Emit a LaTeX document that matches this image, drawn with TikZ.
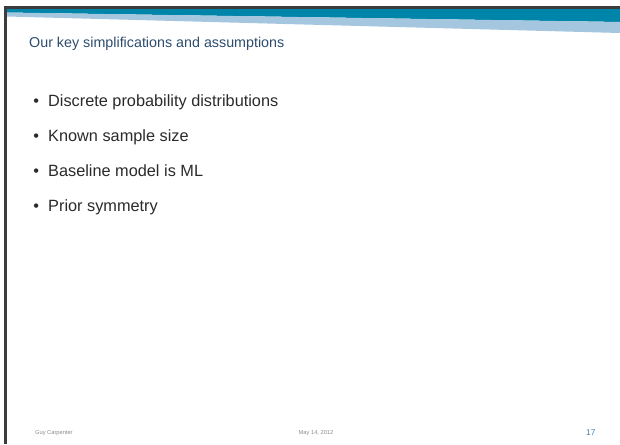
\documentclass[tikz,border=0pt]{standalone}
\usepackage{fontspec}
\setmainfont{Liberation Sans}
\usepackage{tikz}
\usepackage{xcolor}
\definecolor{bandteal}{HTML}{0085AA}
\definecolor{bandlight}{HTML}{A4C6DE}
\definecolor{frame}{HTML}{3C3C3C}
\definecolor{titleblue}{HTML}{2E4D6E}
\definecolor{bodytext}{HTML}{2B2B2B}
\definecolor{footgray}{HTML}{8C8C8C}
\definecolor{pageblue}{HTML}{4F7EA8}
\tikzstyle{slidetitle} = [anchor=base west, inner sep=0, text=titleblue,
    font=\fontsize{14.3}{17}\selectfont]
\tikzstyle{bodylist} = [anchor=base west, inner sep=0, text=bodytext,
    font=\fontsize{16.3}{20}\selectfont]
\tikzstyle{footer} = [inner sep=0, text=footgray, font=\fontsize{5.7}{7}\selectfont]

\begin{document}
\begin{tikzpicture}[x=1pt,y=-1pt]
\useasboundingbox (0,0) rectangle (620,444);
\fill[white] (0,0) rectangle (620,444);
% header bands
\fill[bandteal] (7,8.5) -- (620,8.5) -- (620,22) -- (7,12.5) -- cycle;
\fill[bandlight] (7,12.5) -- (620,22) -- (620,33) -- (7,16.5) -- cycle;
\draw[frame, line width=3pt] (5.5,444) -- (5.5,7.5) -- (620,7.5);

\node[slidetitle] (title) at (29,48) {Our key simplifications and assumptions};

\node[bodylist] (items) at (36,106) {
    \begin{minipage}[t]{400pt}
    \setlength\leftmargini{12pt}
    \setlength\labelsep{9pt}
    \begin{itemize}
    \setlength\itemsep{11pt}
    \setlength\parsep{0pt}
        \item Discrete probability distributions
        \item Known sample size
        \item Baseline model is ML
        \item Prior symmetry
    \end{itemize}
    \end{minipage}
};

\node[footer, anchor=base west] (author) at (35,434.7) {Guy Carpenter};
\node[footer, anchor=base] (date) at (316,434.7) {May 14, 2012};
\node[anchor=base west, inner sep=0, text=pageblue,
    font=\fontsize{8.4}{10}\selectfont] (page) at (586,435) {17};
\end{tikzpicture}
\end{document}
